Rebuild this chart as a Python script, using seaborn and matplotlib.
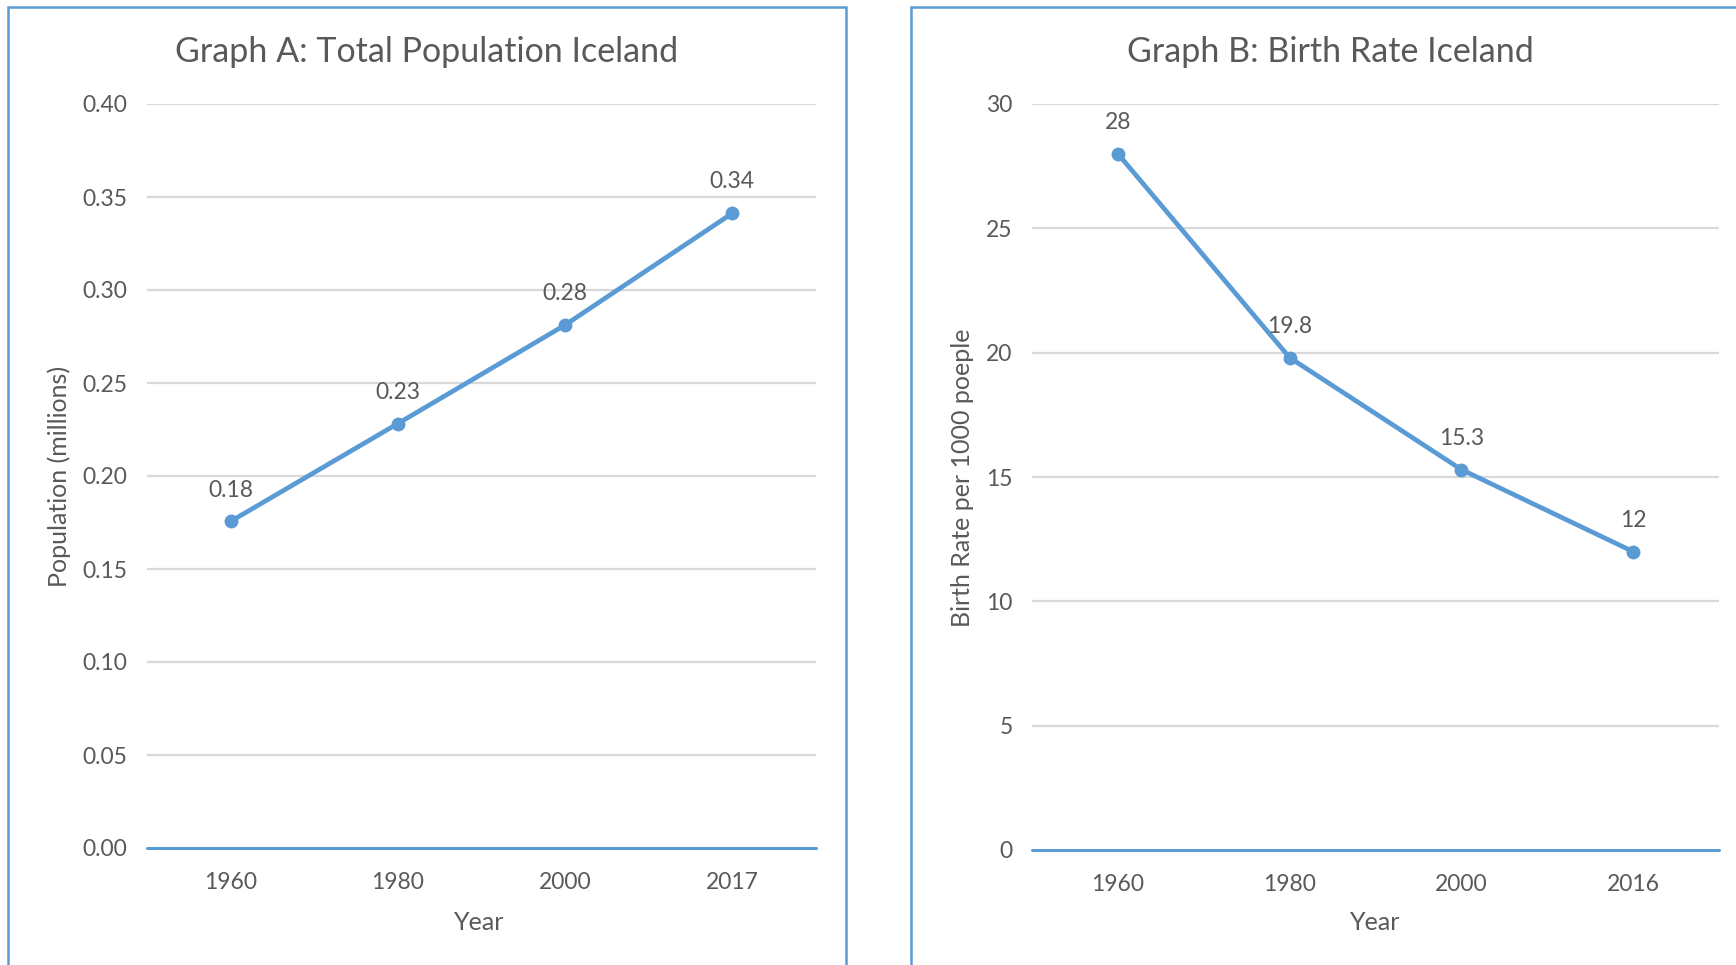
import matplotlib
matplotlib.use("Agg")
import matplotlib.pyplot as plt
import seaborn as sns
import pandas as pd
from matplotlib.patches import Rectangle

# ---- data ----
years_a = ["1960", "1980", "2000", "2017"]
population = [0.1756, 0.2282, 0.2812, 0.3413]
pop_labels = ["0.18", "0.23", "0.28", "0.34"]

years_b = ["1960", "1980", "2000", "2016"]
birth_rate = [28.0, 19.8, 15.3, 12.0]
br_labels = ["28", "19.8", "15.3", "12"]

sns.set_theme(style="white")
plt.rcParams["font.family"] = ["Lato", "DejaVu Sans"]

LINE = "#5B9BD5"
GRID = "#D9D9D9"
TXT = "#595959"
TITLE = "#595959"

W, H = 1736, 965
fig = plt.figure(figsize=(W / 100, H / 100), dpi=100)
fig.patch.set_facecolor("white")

def fx(px):
    return px / W

def fy(py):
    return 1 - py / H

# panel borders
fig.add_artist(Rectangle((fx(8), fy(990)), fx(846 - 8), (990 - 7) / H,
                         transform=fig.transFigure, fill=False,
                         edgecolor=LINE, linewidth=1.8))
fig.add_artist(Rectangle((fx(911), fy(990)), fx(1760 - 911), (990 - 7) / H,
                         transform=fig.transFigure, fill=False,
                         edgecolor=LINE, linewidth=1.8))

ax1 = fig.add_axes([fx(147), fy(848), fx(816 - 147), (848 - 104) / H])
ax2 = fig.add_axes([fx(1032), fy(850), fx(1719 - 1032), (850 - 104) / H])

TICK_FS = 16.5

def style(ax, cats, vals, labels, ylim, yticks, yfmt):
    df = pd.DataFrame({"Year": cats, "v": vals})
    sns.lineplot(data=df, x="Year", y="v", ax=ax, color=LINE, linewidth=3.4,
                 marker="o", markersize=10, markeredgewidth=0, sort=False)
    ax.set_xlim(-0.5, len(cats) - 0.5)
    ax.set_ylim(*ylim)
    ax.set_yticks(yticks)
    ax.set_yticklabels([yfmt(t) for t in yticks])
    ax.set_xticks(range(len(cats)))
    ax.set_xticklabels(cats)
    for t in yticks[1:]:
        ax.axhline(t, color=GRID, linewidth=1.6, zorder=0)
    ax.axhline(0, color=LINE, linewidth=2.2, zorder=1, clip_on=False)
    for s in ax.spines.values():
        s.set_visible(False)
    ax.tick_params(axis="both", length=0, labelsize=TICK_FS, colors=TXT)
    ax.tick_params(axis="y", pad=14)
    ax.tick_params(axis="x", pad=17)
    ax.set_xlabel("")
    ax.set_ylabel("")
    ax.grid(False)
    for i, (v, lab) in enumerate(zip(vals, labels)):
        ax.annotate(lab, (i, v), xytext=(0, 22.5), textcoords="offset points",
                    ha="center", va="center", fontsize=TICK_FS, color=TXT)
    ax.set_facecolor("none")

style(ax1, years_a, population, pop_labels, (0, 0.40),
      [0.0, 0.05, 0.10, 0.15, 0.20, 0.25, 0.30, 0.35, 0.40],
      lambda t: f"{t:.2f}")
style(ax2, years_b, birth_rate, br_labels, (0, 30),
      [0, 5, 10, 15, 20, 25, 30], lambda t: f"{t:g}")

# titles and axis labels
fig.text(fx(427), fy(52), "Graph A: Total Population Iceland", ha="center",
         va="center", fontsize=24.5, color=TITLE)
fig.text(fx(1330), fy(52), "Graph B: Birth Rate Iceland", ha="center",
         va="center", fontsize=24.5, color=TITLE)
fig.text(fx(479), fy(922), "Year", ha="center", va="center", fontsize=18, color=TXT)
fig.text(fx(1375), fy(923), "Year", ha="center", va="center", fontsize=18, color=TXT)
fig.text(fx(59), fy(476), "Population (millions)", ha="center", va="center",
         rotation=90, fontsize=18, color=TXT)
fig.text(fx(963), fy(478), "Birth Rate per 1000 poeple", ha="center", va="center",
         rotation=90, fontsize=18, color=TXT)

fig.savefig("out.png", dpi=100, facecolor="white")
